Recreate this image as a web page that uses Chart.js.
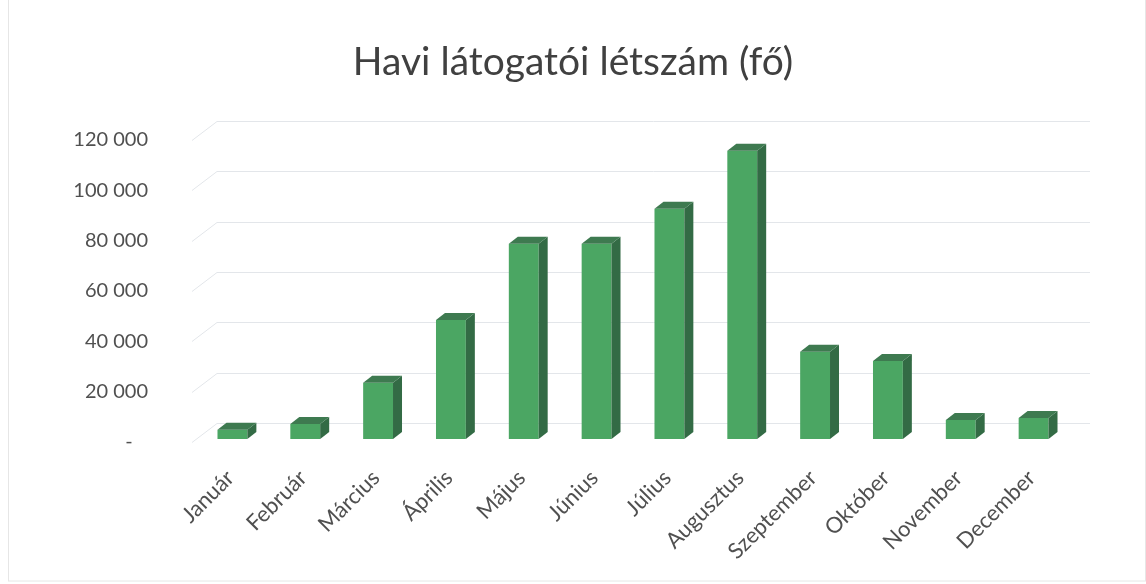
<!DOCTYPE html>
<html>
<head>
<meta charset="utf-8">
<script src="https://cdn.jsdelivr.net/npm/chart.js@4/dist/chart.umd.min.js"></script>
<style>
  html, body { margin: 0; padding: 0; background: #fff; }
  #wrap { width: 1146px; height: 584px; }
</style>
</head>
<body>
<div id="wrap"><canvas id="area" width="1146" height="584"></canvas></div>
<script>
var months = ["Január", "Február", "Március", "Április", "Május", "Június",
              "Július", "Augusztus", "Szeptember", "Október", "November", "December"];
var visitors = [3700, 6000, 22300, 47300, 77500, 77500, 91400, 114500, 34600, 31000, 7500, 8300];
var yTicks = [0, 20000, 40000, 60000, 80000, 100000, 120000];

var DX = 9, DY = 7;            // depth of the fake 3D bars
var WALL_DX = 21, WALL_DY = 16; // back wall offset for the grid lines

function fmt(v) {
  if (v === 0) return '-   ';
  return String(v).replace(/\B(?=(\d{3})+(?!\d))/g, ' ');
}

// light grid on the "back wall" plus slanted side-wall lines
var backGrid = {
  id: 'backGrid',
  beforeDatasetsDraw: function(chart) {
    var c = chart.ctx, a = chart.chartArea, y = chart.scales.y;
    c.save();
    c.strokeStyle = '#e3e6ea';
    c.lineWidth = 1;
    yTicks.forEach(function(v) {
      var py = Math.round(y.getPixelForValue(v)) + 0.5;
      c.beginPath();
      c.moveTo(a.left - 4, py + 3);
      c.lineTo(a.left + WALL_DX, py - WALL_DY);
      c.lineTo(a.right + 20, py - WALL_DY);
      c.stroke();
    });
    c.restore();
  }
};

// side and top faces for every bar
var bars3d = {
  id: 'bars3d',
  afterDatasetsDraw: function(chart) {
    var c = chart.ctx;
    chart.getDatasetMeta(0).data.forEach(function(bar) {
      var p = bar.getProps(['x', 'y', 'base', 'width'], true);
      var l = p.x - p.width / 2, r = p.x + p.width / 2;
      c.save();
      c.fillStyle = '#336b45';
      c.beginPath();
      c.moveTo(r, p.y);
      c.lineTo(r + DX, p.y - DY);
      c.lineTo(r + DX, p.base - DY);
      c.lineTo(r, p.base);
      c.closePath();
      c.fill();
      c.fillStyle = '#3e7a50';
      c.beginPath();
      c.moveTo(l, p.y);
      c.lineTo(l + DX, p.y - DY);
      c.lineTo(r + DX, p.y - DY);
      c.lineTo(r, p.y);
      c.closePath();
      c.fill();
      c.restore();
    });
  }
};

var frame = {
  id: 'frame',
  afterDraw: function(chart) {
    var c = chart.ctx;
    c.save();
    c.strokeStyle = '#e6e6e6';
    c.lineWidth = 1;
    c.strokeRect(8.5, -2, 1137, 583);
    c.restore();
  }
};

var ctx = document.getElementById('area').getContext('2d');
var myChart = new Chart(ctx, {
    type: 'bar',
    data: {
        labels: months,
        datasets: [{
            label: 'Látogatók',
            data: visitors,
            backgroundColor: '#4ba663',
            borderWidth: 0,
            barPercentage: 0.41,
            categoryPercentage: 1
        }]
    },
    plugins: [backGrid, bars3d, frame],
    options: {
        responsive: false,
        animation: false,
        layout: { padding: 0 },
        plugins: {
            legend: { display: false },
            tooltip: { enabled: false },
            title: {
                display: true,
                text: 'Havi látogatói létszám (fő)',
                color: '#404040',
                font: { family: 'Lato', size: 39, weight: 'normal' },
                padding: { top: 39, bottom: 51 }
            }
        },
        scales: {
            x: {
                grid: { display: false },
                border: { display: false },
                ticks: {
                    color: '#505050',
                    font: { family: 'Lato', size: 22 },
                    maxRotation: 45,
                    minRotation: 45,
                    autoSkip: false,
                    padding: 18,
                    labelOffset: -2
                },
                afterFit: function(s) { s.height = 145; }
            },
            y: {
                min: 0,
                max: 120000,
                grid: { display: false },
                border: { display: false },
                afterBuildTicks: function(s) {
                    s.ticks = yTicks.map(function(v) { return { value: v }; });
                },
                ticks: {
                    color: '#505050',
                    font: { family: 'Lato', size: 20 },
                    padding: 40,
                    labelOffset: 3,
                    callback: function(v) { return fmt(v); }
                },
                afterFit: function(s) { s.width = 196; }
            },
            // empty right-hand space so the title stays centred on the page
            yRight: {
                position: 'right',
                grid: { display: false },
                border: { display: false },
                ticks: { display: false },
                afterFit: function(s) { s.width = 76; }
            }
        }
    }
});
</script>
</body>
</html>
